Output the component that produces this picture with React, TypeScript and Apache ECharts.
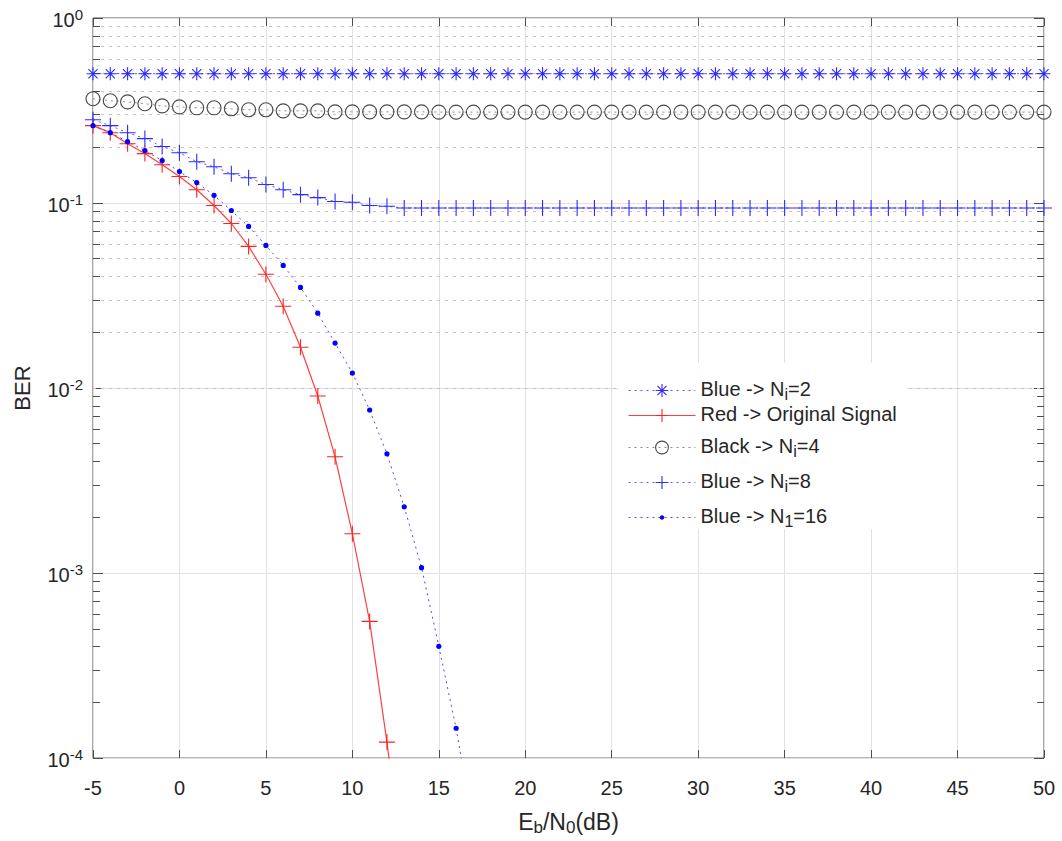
import React, { useEffect, useRef } from 'react';
import * as echarts from 'echarts';

// ---------------- data ----------------
const EBN0 = [
  -5, -4, -3, -2, -1, 0, 1, 2, 3, 4, 5, 6, 7, 8, 9, 10, 11, 12, 13, 14, 15, 16, 17, 18, 19, 20, 21, 22,
  23, 24, 25, 26, 27, 28, 29, 30, 31, 32, 33, 34, 35, 36, 37, 38, 39, 40, 41, 42, 43, 44, 45, 46, 47, 48, 49, 50,
];
const EBN0_ORIG = [-5, -4, -3, -2, -1, 0, 1, 2, 3, 4, 5, 6, 7, 8, 9, 10, 11, 12, 13];
const EBN0_N16 = [-5, -4, -3, -2, -1, 0, 1, 2, 3, 4, 5, 6, 7, 8, 9, 10, 11, 12, 13, 14, 15, 16, 17];

const BER_N2 = [
  0.5, 0.5, 0.5, 0.5, 0.5, 0.5, 0.5, 0.5, 0.5, 0.5, 0.5, 0.5, 0.5, 0.5, 0.5, 0.5, 0.5, 0.5, 0.5, 0.5, 0.5, 0.5,
  0.5, 0.5, 0.5, 0.5, 0.5, 0.5, 0.5, 0.5, 0.5, 0.5, 0.5, 0.5, 0.5, 0.5, 0.5, 0.5, 0.5, 0.5, 0.5, 0.5, 0.5, 0.5,
  0.5, 0.5, 0.5, 0.5, 0.5, 0.5, 0.5, 0.5, 0.5, 0.5, 0.5, 0.5,
];
const BER_ORIG = [
  0.262, 0.24, 0.209, 0.185, 0.161, 0.139, 0.118, 0.097, 0.0775, 0.0583, 0.0412, 0.0277, 0.0166, 0.00906,
  0.00425, 0.00163, 0.000548, 0.000122, 0.000022,
];
const BER_N4 = [
  0.366, 0.357, 0.352, 0.344, 0.335, 0.331, 0.327, 0.327, 0.323, 0.319, 0.319, 0.315, 0.315, 0.315, 0.311,
  0.311, 0.311, 0.311, 0.311, 0.311, 0.31, 0.31, 0.31, 0.31, 0.31, 0.31, 0.31, 0.31, 0.31, 0.31, 0.31, 0.31,
  0.31, 0.31, 0.31, 0.31, 0.31, 0.31, 0.31, 0.31, 0.31, 0.31, 0.31, 0.31, 0.31, 0.31, 0.31, 0.31, 0.31, 0.31,
  0.31, 0.31, 0.31, 0.31, 0.31, 0.31,
];
const BER_N8 = [
  0.282, 0.262, 0.24, 0.223, 0.202, 0.187, 0.167, 0.157, 0.144, 0.137, 0.126, 0.118, 0.111, 0.107, 0.102,
  0.101, 0.097, 0.096, 0.094, 0.094, 0.094, 0.094, 0.094, 0.094, 0.094, 0.094, 0.094, 0.094, 0.094, 0.094,
  0.094, 0.094, 0.094, 0.094, 0.094, 0.094, 0.094, 0.094, 0.094, 0.094, 0.094, 0.094, 0.094, 0.094, 0.094,
  0.094, 0.094, 0.094, 0.094, 0.094, 0.094, 0.094, 0.094, 0.094, 0.094, 0.094,
];
const BER_N16 = [
  0.262, 0.24, 0.2145, 0.192, 0.1695, 0.148, 0.129, 0.11, 0.0911, 0.0747, 0.059, 0.046, 0.035, 0.0254, 0.0175,
  0.01205, 0.00761, 0.00441, 0.00228, 0.00107, 0.000402, 0.000145, 0.000042,
];

const SERIES_NAMES = [
  'Blue -> Ni=2',
  'Red -> Original Signal',
  'Black -> Ni=4',
  'Blue -> Ni=8',
  'Blue -> N1=16',
];
const LEGEND_LABELS: Record<string, string> = {
  'Blue -> Ni=2': '{n|Blue -> N}{sub|i}{n|=2}',
  'Red -> Original Signal': '{n|Red -> Original Signal}',
  'Black -> Ni=4': '{n|Black -> N}{sub|i}{n|=4}',
  'Blue -> Ni=8': '{n|Blue -> N}{sub|i}{n|=8}',
  'Blue -> N1=16': '{n|Blue -> N}{sub|1}{n|=16}',
};

const X_TICK_MIN = -5;
const X_TICK_MAX = 50;
const X_TICK_STEP = 5;
const Y_MIN = 1e-4;
const Y_MAX = 1;
const MINOR_MULTS = [2, 3, 4, 5, 6, 7, 8, 9];
const DECADES = [1e-4, 1e-3, 1e-2, 1e-1];

// ---------------- styling ----------------
const FONT = '"Liberation Sans", Arial, Helvetica, sans-serif';
const TXT = '#262626';
const STAR = 'path://M0,-10L0,10M-10,0L10,0M-7.07,-7.07L7.07,7.07M-7.07,7.07L7.07,-7.07';
const PLUS = 'path://M0,-10L0,10M-10,0L10,0';
const RING = 'path://M0,-10A10,10 0 1,1 0,10A10,10 0 1,1 0,-10Z';
const DOT = 'path://M-10,-10M10,10M0,-2.6A2.6,2.6 0 1,1 0,2.6A2.6,2.6 0 1,1 0,-2.6Z';

const pairs = (xs: number[], ys: number[]) => xs.map((x, i) => [x, ys[i]]);

export default function App() {
  const ref = useRef<HTMLDivElement>(null);

  useEffect(() => {
    if (!ref.current) return;
    const chart = echarts.init(ref.current, undefined, { renderer: 'svg' });

    const minorVals: number[] = [];
    DECADES.forEach((d) => MINOR_MULTS.forEach((m) => minorVals.push(m * d)));

    const tickLen = 0.4;
    const markData: any[] = [];
    minorVals.forEach((v) => {
      markData.push({ yAxis: v, lineStyle: { color: '#c4c4c4', type: [3, 5], width: 1 } });
    });
    minorVals.forEach((v) => {
      markData.push([
        { coord: [X_TICK_MIN, v], lineStyle: { color: '#4d4d4d', type: 'solid', width: 1 } },
        { coord: [X_TICK_MIN + tickLen, v] },
      ]);
      markData.push([
        { coord: [X_TICK_MAX - tickLen, v], lineStyle: { color: '#4d4d4d', type: 'solid', width: 1 } },
        { coord: [X_TICK_MAX, v] },
      ]);
    });

    const legendRich = {
      n: { fontFamily: FONT, fontSize: 20, color: TXT, lineHeight: 23, verticalAlign: 'top' },
      sub: {
        fontFamily: FONT,
        fontSize: 16,
        color: TXT,
        lineHeight: 18,
        padding: [17, 0, 0, 0],
        verticalAlign: 'bottom',
      },
    };
    const nameRich = {
      n: { fontFamily: FONT, fontSize: 23, color: TXT, lineHeight: 26, verticalAlign: 'top' },
      sub: {
        fontFamily: FONT,
        fontSize: 17,
        color: TXT,
        lineHeight: 20,
        padding: [16, 0, 0, 0],
        verticalAlign: 'bottom',
      },
    };

    const lineSeries = (
      name: string,
      xs: number[],
      ys: number[],
      symbol: string,
      symbolSize: number,
      itemStyle: any,
      lineStyle: any,
    ) => ({
      type: 'line',
      name,
      data: pairs(xs, ys),
      symbol,
      symbolSize,
      itemStyle,
      lineStyle,
      clip: true,
      silent: true,
      z: 3,
      emphasis: { disabled: true },
    });

    const tickStyle = { show: true, inside: true, lineStyle: { color: '#4d4d4d' } };

    const option: any = {
      animation: false,
      backgroundColor: '#ffffff',
      textStyle: { fontFamily: FONT },
      grid: {
        left: 93,
        top: 18,
        width: 951,
        height: 742,
        show: true,
        borderColor: '#4d4d4d',
        borderWidth: 1,
        backgroundColor: 'transparent',
      },
      xAxis: [
        {
          type: 'value',
          min: X_TICK_MIN,
          max: X_TICK_MAX,
          interval: X_TICK_STEP,
          position: 'bottom',
          name: '{n|E}{sub|b}{n|/N}{sub|0}{n|(dB)}',
          nameLocation: 'middle',
          nameGap: 50,
          nameTextStyle: { fontFamily: FONT, fontSize: 23, color: TXT, rich: nameRich },
          axisLine: { show: false, onZero: false },
          axisTick: { ...tickStyle, length: 8 },
          axisLabel: { margin: 20, fontSize: 20, color: TXT, fontFamily: FONT },
          splitLine: { show: true, lineStyle: { color: '#e2e2e2', width: 1 } },
        },
        {
          type: 'value',
          min: X_TICK_MIN,
          max: X_TICK_MAX,
          interval: X_TICK_STEP,
          position: 'top',
          axisLine: { show: false, onZero: false },
          axisTick: { ...tickStyle, length: 8 },
          axisLabel: { show: false },
          splitLine: { show: false },
        },
      ],
      yAxis: [
        {
          type: 'log',
          logBase: 10,
          min: Y_MIN,
          max: Y_MAX,
          position: 'left',
          name: 'BER',
          nameLocation: 'middle',
          nameRotate: 90,
          nameGap: 60,
          nameTextStyle: { fontFamily: FONT, fontSize: 22, color: TXT },
          axisLine: { show: false, onZero: false },
          axisTick: { ...tickStyle, length: 10 },
          axisLabel: {
            margin: 10,
            formatter: (v: number) => `{b|10}{s|${Math.round(Math.log10(v))}}`,
            rich: {
              b: { fontFamily: FONT, fontSize: 20, color: TXT, lineHeight: 23, verticalAlign: 'bottom' },
              s: {
                fontFamily: FONT,
                fontSize: 15,
                color: TXT,
                lineHeight: 17,
                padding: [0, 0, 12, 0],
                verticalAlign: 'top',
              },
            },
          },
          splitLine: { show: true, lineStyle: { color: '#e2e2e2', width: 1 } },
        },
        {
          type: 'log',
          logBase: 10,
          min: Y_MIN,
          max: Y_MAX,
          position: 'right',
          axisLine: { show: false, onZero: false },
          axisTick: { ...tickStyle, length: 10 },
          axisLabel: { show: false },
          splitLine: { show: false },
        },
      ],
      legend: {
        orient: 'vertical',
        left: 618,
        top: 363,
        data: SERIES_NAMES,
        backgroundColor: '#ffffff',
        padding: [6, 10, 0, 10],
        itemWidth: 67,
        itemHeight: 16,
        itemGap: 2,
        selectedMode: false,
        formatter: (n: string) => LEGEND_LABELS[n] || n,
        textStyle: { color: TXT, fontFamily: FONT, fontSize: 20, rich: legendRich },
        itemStyle: { borderWidth: 1.1 },
        lineStyle: { width: 1 },
        z: 10,
      },
      series: [
        {
          type: 'line',
          name: '__minor_grid',
          data: [],
          silent: true,
          z: 1,
          markLine: {
            silent: true,
            symbol: ['none', 'none'],
            label: { show: false },
            z: 1,
            animation: false,
            emphasis: { disabled: true },
            data: markData,
          },
        },
        lineSeries(
          SERIES_NAMES[0],
          EBN0,
          BER_N2,
          STAR,
          13,
          { color: 'transparent', borderColor: '#2b2bff', borderWidth: 1.1 },
          { color: '#5a5aff', width: 1, type: [2, 4] },
        ),
        lineSeries(
          SERIES_NAMES[1],
          EBN0_ORIG,
          BER_ORIG,
          PLUS,
          16,
          { color: 'transparent', borderColor: '#ff2020', borderWidth: 1.1 },
          { color: '#ff4040', width: 1.2, type: 'solid' },
        ),
        lineSeries(
          SERIES_NAMES[2],
          EBN0,
          BER_N4,
          RING,
          14,
          { color: 'transparent', borderColor: '#4a4a4a', borderWidth: 1.1 },
          { color: '#8a8a8a', width: 1, type: [2, 4] },
        ),
        lineSeries(
          SERIES_NAMES[3],
          EBN0,
          BER_N8,
          PLUS,
          16,
          { color: 'transparent', borderColor: '#2b2bff', borderWidth: 1.1 },
          { color: '#5a5aff', width: 1, type: [2, 4] },
        ),
        lineSeries(
          SERIES_NAMES[4],
          EBN0_N16,
          BER_N16,
          DOT,
          20,
          { color: '#0000ff', borderColor: '#0000ff', borderWidth: 0 },
          { color: '#4a4aff', width: 1, type: [2, 4] },
        ),
      ],
    };

    chart.setOption(option);
    return () => chart.dispose();
  }, []);

  return (
    <div
      ref={ref}
      style={{ position: 'fixed', left: 0, top: 0, width: 1062, height: 841, background: '#fff' }}
    />
  );
}
